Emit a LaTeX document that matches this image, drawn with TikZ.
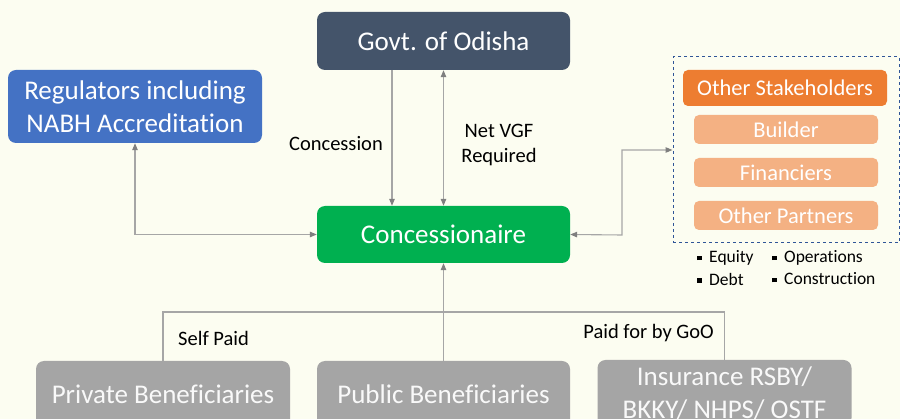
\documentclass[tikz,border=0pt]{standalone}
\usepackage{fontspec}
\setmainfont[RawFeature={-liga}]{Carlito}
\usetikzlibrary{arrows.meta}
\definecolor{bgc}{HTML}{FCFDF1}
\definecolor{govc}{HTML}{44546A}
\definecolor{regc}{HTML}{4472C4}
\definecolor{conc}{HTML}{00B050}
\definecolor{stkc}{HTML}{ED7D31}
\definecolor{ltor}{HTML}{F4B183}
\definecolor{grbx}{HTML}{A5A5A5}
\definecolor{dashc}{HTML}{2F5597}
\definecolor{linec}{HTML}{A6A6A6}
\definecolor{headc}{HTML}{7F7F7F}
\tikzset{
  bigbox/.style={rounded corners=8pt, text=white, align=center, inner sep=0pt,
    font=\fontsize{27}{32.5}\selectfont},
  smallbox/.style={rounded corners=5pt, text=white, align=center, inner sep=0pt,
    font=\fontsize{22.5}{27}\selectfont, minimum width=184pt, minimum height=29pt},
  lbl/.style={font=\fontsize{20.5}{24.5}\selectfont, inner sep=0pt, text=black},
  bul/.style={font=\fontsize{17.5}{21}\selectfont, inner sep=0pt, anchor=west},
  conn/.style={draw=linec, line width=1.1pt},
  tip/.style={-{Triangle[length=7pt,width=5.5pt,color=headc]}},
  tips/.style={{Triangle[length=7pt,width=5.5pt,color=headc]}-{Triangle[length=7pt,width=5.5pt,color=headc]}}
}
\newcommand{\sqb}{\raisebox{2.5pt}{\rule{4.5pt}{4.5pt}}\hspace{7.5pt}}
\begin{document}
\begin{tikzpicture}[x=1pt,y=-1pt]
\clip (0,0) rectangle (900,419);
\fill[bgc] (0,0) rectangle (900,419);

\node[bigbox, fill=govc, minimum width=253pt, minimum height=58pt] (govt) at (443.5,41) {Govt. of Odisha};
\node[bigbox, fill=regc, minimum width=254pt, minimum height=73pt] (reg) at (135,106.5) {Regulators including\\NABH Accreditation};
\node[bigbox, fill=conc, minimum width=253pt, minimum height=57pt] (con) at (443.5,234.5) {Concessionaire};

\node[draw=dashc, dashed, line width=1pt, minimum width=226pt, minimum height=186pt, inner sep=0pt] (grp) at (786,150) {};
\node[smallbox, fill=stkc, minimum width=204pt, minimum height=36pt] (stk) at (785,88) {Other Stakeholders};
\node[smallbox, fill=ltor] (bld) at (786,129.5) {Builder};
\node[smallbox, fill=ltor] (fin) at (786,172.5) {Financiers};
\node[smallbox, fill=ltor] (oth) at (786,215.5) {Other Partners};

\node[bul] (eq) at (697,258) {\sqb Equity};
\node[bul] (db) at (697,279) {\sqb Debt};
\node[bul] (op) at (772,258) {\sqb Operations};
\node[bul] (cs) at (772,279) {\sqb Construction};

\node[bigbox, fill=grbx, text=white!95!gray, minimum width=254pt, minimum height=66pt] (priv) at (163,394) {Private Beneficiaries};
\node[bigbox, fill=grbx, text=white!95!gray, minimum width=253pt, minimum height=66pt] (pub) at (443.5,394) {Public Beneficiaries};
\node[bigbox, fill=grbx, text=white!95!gray, minimum width=254pt, minimum height=66pt] (ins) at (724.5,393) {Insurance RSBY/\\BKKY/ NHPS/ OSTF};

% connectors
\draw[conn, tip] ([xshift=-51.5pt]govt.south) -- ([xshift=-51.5pt]con.north);
\draw[conn, tips] (con.north) -- (govt.south);
\draw[conn, tips] (reg.south) |- (con.west);
\coordinate (elb) at (622,235);
\draw[conn, tips] (con.east) -- (elb) |- (grp.west);
\draw[conn, tip] (pub.north) -- (con.south);
\coordinate (bus) at (443.5,312);
\draw[conn] (priv.north) |- (bus) -| (ins.north);

% labels
\node[lbl, anchor=east] (lc) at (383,144) {Concession};
\node[lbl, align=center] (lv) at (499,145) {Net VGF\\Required};
\node[lbl, anchor=west] (ls) at (178,338) {Self Paid};
\node[lbl, anchor=east] (lg) at (714,333) {Paid for by GoO};
\end{tikzpicture}
\end{document}
